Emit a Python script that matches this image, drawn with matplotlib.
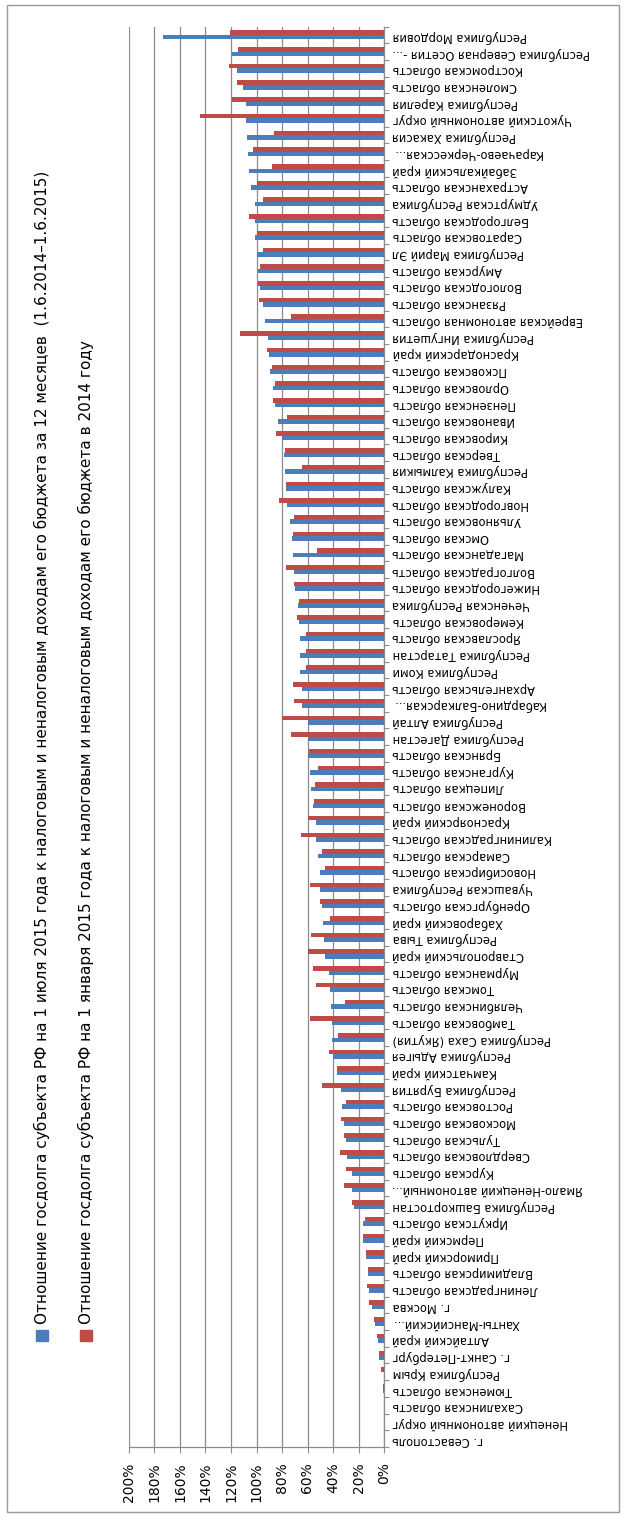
import matplotlib.pyplot as plt
import numpy as np
from matplotlib.patches import Rectangle

# categories from the first (bottom) to the last (top)
regions = [
    'г. Севастополь', 'Ненецкий автономный округ', 'Сахалинская область',
    'Тюменская область', 'Республика Крым', 'г. Санкт-Петербург',
    'Алтайский край', 'Ханты-Мансийский...', 'г. Москва',
    'Ленинградская область', 'Владимирская область', 'Приморский край',
    'Пермский край', 'Иркутская область', 'Республика Башкортостан',
    'Ямало-Ненецкий автономный...', 'Курская область', 'Свердловская область',
    'Тульская область', 'Московская область', 'Ростовская область',
    'Республика Бурятия', 'Камчатский край', 'Республика Адыгея',
    'Республика Саха (Якутия)', 'Тамбовская область', 'Челябинская область',
    'Томская область', 'Мурманская область', 'Ставропольский край',
    'Республика Тыва', 'Хабаровский край', 'Оренбургская область',
    'Чувашская Республика', 'Новосибирская область', 'Самарская область',
    'Калининградская область', 'Красноярский край', 'Воронежская область',
    'Липецкая область', 'Курганская область', 'Брянская область',
    'Республика Дагестан', 'Республика Алтай', 'Кабардино-Балкарская...',
    'Архангельская область', 'Республика Коми', 'Республика Татарстан',
    'Ярославская область', 'Кемеровская область', 'Чеченская Республика',
    'Нижегородская область', 'Волгоградская область', 'Магаданская область',
    'Омская область', 'Ульяновская область', 'Новгородская область',
    'Калужская область', 'Республика Калмыкия', 'Тверская область',
    'Кировская область', 'Ивановская область', 'Пензенская область',
    'Орловская область', 'Псковская область', 'Краснодарский край',
    'Республика Ингушетия', 'Еврейская автономная область', 'Рязанская область',
    'Вологодская область', 'Амурская область', 'Республика Марий Эл',
    'Саратовская область', 'Белгородская область', 'Удмуртская Республика',
    'Астраханская область', 'Забайкальский край', 'Карачаево-Черкесская...',
    'Республика Хакасия', 'Чукотский автономный округ', 'Республика Карелия',
    'Смоленская область', 'Костромская область', 'Республика Северная Осетия -...',
    'Республика Мордовия',
]

# debt / revenues for 12 months (1.6.2014-1.6.2015), %
debt_jul2015 = [
    0, 0, 0, 1.0, 0, 3.9, 4.7, 7.1, 9.7, 12.0, 12.5, 14.1, 16.5, 16.5, 23.8,
    24.8, 24.8, 29.0, 30.1, 31.6, 32.7, 33.7, 36.6, 40.0, 40.8, 40.8, 41.6,
    42.6, 43.4, 46.3, 47.3, 48.1, 48.9, 49.9, 49.9, 51.5, 53.6, 53.6, 55.9,
    57.0, 58.0, 59.3, 59.9, 59.9, 64.0, 64.0, 65.9, 65.9, 65.9, 66.9, 67.7,
    69.5, 70.3, 71.4, 72.4, 74.0, 75.8, 76.9, 77.6, 78.4, 80.3, 83.1, 85.8,
    86.8, 89.2, 90.2, 91.2, 93.1, 94.9, 97.5, 99.1, 99.9, 100.9, 100.9, 101.2,
    104.6, 105.6, 106.4, 107.5, 108.5, 108.5, 110.3, 115.6, 119.5, 173.0,
]

# debt / revenues in 2014, %
debt_jan2015 = [
    0, 0, 0, 1.0, 2.4, 3.7, 5.8, 7.6, 11.5, 13.1, 12.8, 14.1, 16.5, 14.6, 24.8,
    31.6, 29.8, 34.5, 31.6, 33.5, 29.8, 48.9, 37.1, 43.4, 36.3, 58.0, 30.8,
    53.3, 55.4, 59.9, 57.0, 42.4, 49.9, 58.0, 46.3, 48.9, 65.4, 59.9, 54.9,
    54.1, 51.5, 58.6, 73.2, 80.0, 70.3, 71.4, 61.4, 61.4, 61.4, 68.5, 66.4,
    70.3, 76.9, 52.3, 71.4, 70.3, 82.1, 76.9, 64.3, 77.4, 84.7, 75.8, 86.8,
    85.8, 87.6, 92.0, 112.7, 72.9, 98.3, 99.1, 97.3, 94.6, 99.6, 105.6, 94.6,
    99.9, 87.6, 103.0, 86.0, 144.3, 119.5, 115.6, 121.3, 114.8, 120.8,
]

value_ticks = [0, 20, 40, 60, 80, 100, 120, 140, 160, 180, 200]
value_labels = ['0%', '20%', '40%', '60%', '80%', '100%', '120%', '140%',
                '160%', '180%', '200%']

series_names = [
    'Отношение госдолга субъекта РФ на 1 июля 2015 года к налоговым и '
    'неналоговым доходам его бюджета за 12 месяцев  (1.6.2014–1.6.2015)',
    'Отношение госдолга субъекта РФ на 1 января 2015 года к налоговым и '
    'неналоговым доходам его бюджета в 2014 году',
]

BLUE = '#4a7ebb'
RED = '#be4b48'
GRID = '#8c8c8c'


def px(x, y, fig_w=624, fig_h=1516):
    # pixel position from the top-left corner -> figure fraction
    return x / fig_w, 1 - y / fig_h


def plot_debt(fig):
    left, bottom = px(129, 1447)
    right, top = px(384, 26.5)
    ax = fig.add_axes([left, bottom, right - left, top - bottom])

    y = np.arange(len(regions))
    h = 0.27
    ax.barh(y - h / 2, debt_jul2015, height=h, color=BLUE, zorder=3)
    ax.barh(y + h / 2, debt_jan2015, height=h, color=RED, zorder=3)

    ax.set_xlim(200, 0)
    ax.set_ylim(-0.5, len(regions) - 0.5)

    ax.set_xticks(value_ticks)
    ax.set_xticklabels(value_labels, rotation=90, fontsize=10)
    ax.tick_params(axis='x', length=4, width=0.8, color=GRID, pad=7)
    ax.xaxis.grid(True, color=GRID, linewidth=0.9, zorder=0)

    ax.yaxis.tick_right()
    ax.set_yticks(y)
    ax.set_yticklabels(regions, rotation=180, fontsize=8.3)
    ax.set_yticks(np.arange(len(regions) + 1) - 0.5, minor=True)
    ax.tick_params(axis='y', which='major', length=0, pad=6)
    ax.tick_params(axis='y', which='minor', length=3.5, width=0.8, color=GRID,
                   right=True, left=False)
    for lbl in ax.get_yticklabels():
        lbl.set_horizontalalignment('left')

    for side in ['top', 'left']:
        ax.spines[side].set_visible(False)
    for side in ['bottom', 'right']:
        ax.spines[side].set_color(GRID)
        ax.spines[side].set_linewidth(0.9)
    return ax


def plot_legend(fig):
    colors = [BLUE, RED]
    xs = [42, 86]
    for name, color, x in zip(series_names, colors, xs):
        x0, y0 = px(x - 6, 1341)
        fig.add_artist(Rectangle((x0, y0), 12 / 624, 11 / 1516,
                                 transform=fig.transFigure, color=color))
        tx, ty = px(x, 1324)
        fig.text(tx, ty, name, rotation=90, ha='center', va='bottom',
                 fontsize=11)


def main():
    fig = plt.figure(figsize=(6.24, 15.16), dpi=100)
    fig.add_artist(Rectangle((7 / 624, 4 / 1516), 612 / 624, 1507 / 1516,
                             transform=fig.transFigure, fill=False,
                             edgecolor='#9a9a9a', linewidth=1))
    plot_debt(fig)
    plot_legend(fig)
    fig.savefig('out.png', dpi=100)
    plt.close()


if __name__ == '__main__':
    main()
